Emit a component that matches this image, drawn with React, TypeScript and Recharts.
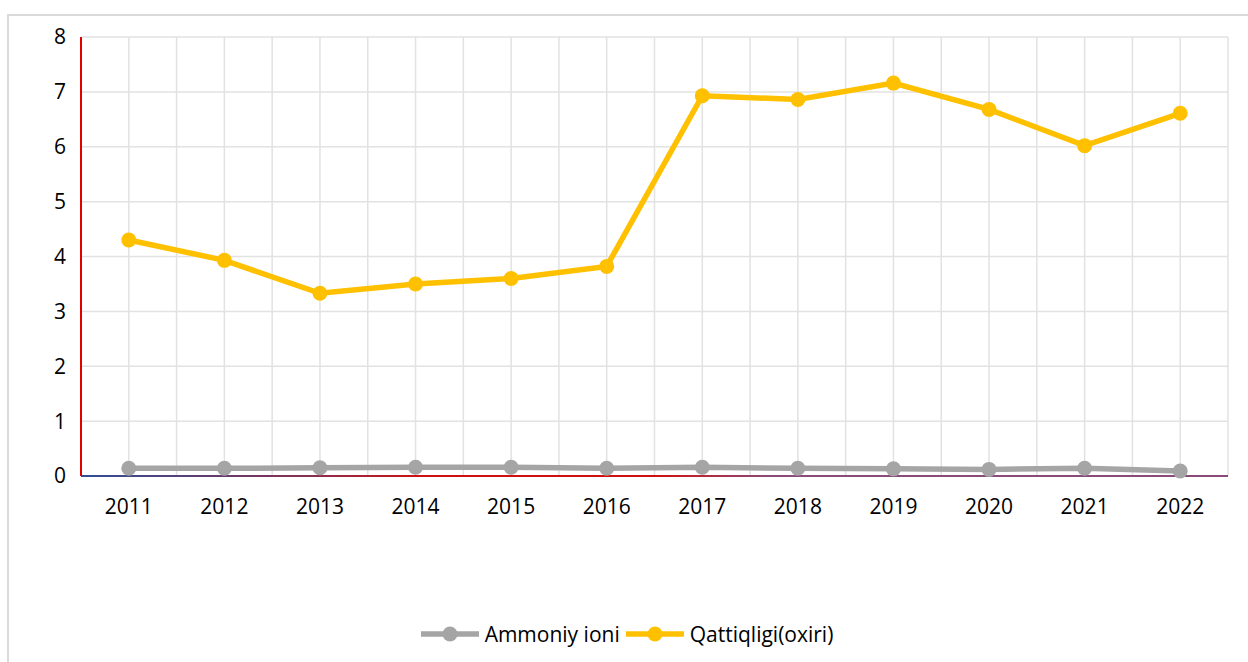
import { LineChart, Line, XAxis, YAxis, CartesianGrid, Legend } from 'recharts';

const years = ['2011', '2012', '2013', '2014', '2015', '2016', '2017', '2018', '2019', '2020', '2021', '2022'];
const ammoniy = [0.14, 0.14, 0.15, 0.16, 0.16, 0.14, 0.16, 0.14, 0.13, 0.12, 0.14, 0.09];
const qattiqligi = [4.3, 3.93, 3.33, 3.5, 3.6, 3.82, 6.93, 6.86, 7.16, 6.68, 6.02, 6.61];
const yTicks = [0, 1, 2, 3, 4, 5, 6, 7, 8];

const GRAY = '#A5A5A5';
const GOLD = '#FFC000';
const FONT = '"Open Sans", sans-serif';

// x at the middle of each year slot, so grid lines can sit on half slots
const data = years.map((y, i) => ({
  x: i + 0.5,
  year: y,
  ammoniy: ammoniy[i],
  qattiqligi: qattiqligi[i],
}));
const xTicks = data.map((d) => d.x);

const legendItems = [
  { name: 'Ammoniy ioni', color: GRAY },
  { name: 'Qattiqligi(oxiri)', color: GOLD },
];

function LegendContent() {
  return (
    <div style={{ display: 'flex', justifyContent: 'center', alignItems: 'center', height: 30, fontFamily: FONT, fontSize: 21, color: '#000', paddingLeft: 12 }}>
      {legendItems.map((it) => (
        <div key={it.name} style={{ display: 'flex', alignItems: 'center', marginRight: 6 }}>
          <svg width={58} height={16} style={{ marginRight: 6 }}>
            <line x1={0} y1={8} x2={58} y2={8} stroke={it.color} strokeWidth={5.5} />
            <circle cx={29} cy={8} r={7.5} fill={it.color} />
          </svg>
          <span>{it.name}</span>
        </div>
      ))}
    </div>
  );
}

export default function App() {
  return (
    <div style={{ position: 'fixed', inset: 0, overflow: 'hidden', background: '#fff' }}>
      <div
        style={{
          position: 'absolute',
          left: 7,
          top: 14,
          width: 1300,
          height: 700,
          border: '2px solid #dadada',
        }}
      />
      <div style={{ position: 'absolute', left: 0, top: 0 }}>
        <LineChart width={1248} height={662} data={data} margin={{ top: 37, right: 20, left: 0, bottom: 116 }}>
          <defs>
            <linearGradient id="xAxisGrad" gradientUnits="userSpaceOnUse" x1={81} y1={0} x2={1228} y2={0}>
              <stop offset="0" stopColor="#2f4e96" />
              <stop offset="0.2" stopColor="#8a3050" />
              <stop offset="0.3" stopColor="#d01010" />
              <stop offset="0.5" stopColor="#d01010" />
              <stop offset="0.6" stopColor="#8b4b78" />
              <stop offset="1" stopColor="#8b4b78" />
            </linearGradient>
          </defs>
          <CartesianGrid
            stroke="#e2e2e2"
            strokeWidth={1.5}
            verticalCoordinatesGenerator={({ offset }: any) =>
              Array.from({ length: 25 }, (_, k) => offset.left + (k * offset.width) / 24)
            }
          />
          <XAxis
            dataKey="x"
            type="number"
            domain={[0, 12]}
            ticks={xTicks}
            tickFormatter={(v: number) => years[Math.floor(v)]}
            tickLine={false}
            axisLine={{ stroke: 'url(#xAxisGrad)', strokeWidth: 2 }}
            tick={{ fill: '#000', fontSize: 21, fontFamily: FONT }}
            tickMargin={17}
            height={40}
            interval={0}
          />
          <YAxis
            domain={[0, 8]}
            ticks={yTicks}
            width={81}
            tickLine={false}
            axisLine={{ stroke: '#e00000', strokeWidth: 2 }}
            tick={{ fill: '#000', fontSize: 21, fontFamily: FONT }}
            tickMargin={9}
            interval={0}
          />
          <Legend
            verticalAlign="bottom"
            content={<LegendContent />}
            wrapperStyle={{ top: 619, bottom: 'auto', left: 0, width: 1248 }}
          />
          <Line
            dataKey="ammoniy"
            name="Ammoniy ioni"
            stroke={GRAY}
            strokeWidth={5.5}
            dot={{ r: 7.5, fill: GRAY, stroke: 'none' }}
            activeDot={false}
            isAnimationActive={false}
          />
          <Line
            dataKey="qattiqligi"
            name="Qattiqligi(oxiri)"
            stroke={GOLD}
            strokeWidth={5.5}
            dot={{ r: 7.5, fill: GOLD, stroke: 'none' }}
            activeDot={false}
            isAnimationActive={false}
          />
        </LineChart>
      </div>
    </div>
  );
}
